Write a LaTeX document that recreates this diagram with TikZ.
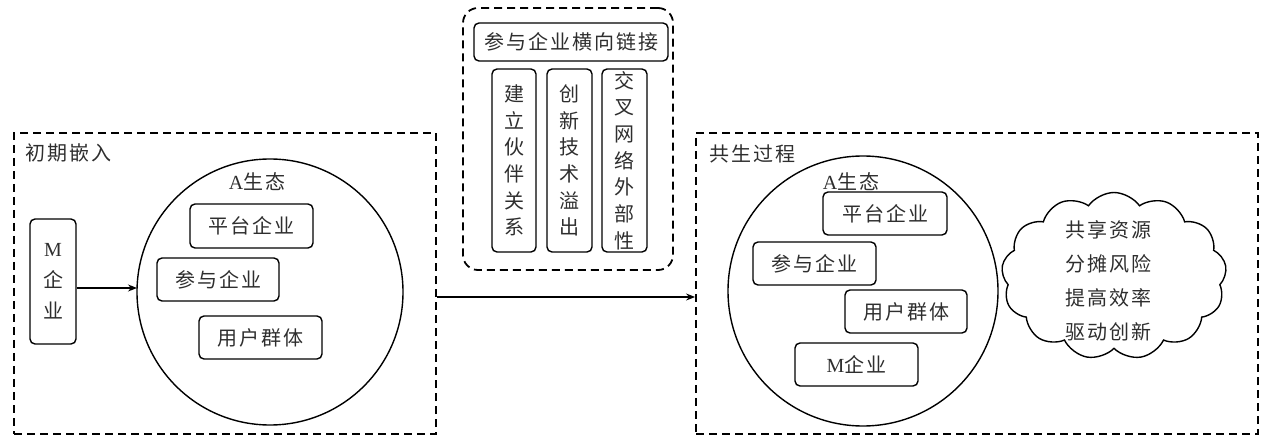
\documentclass[tikz,border=0pt]{standalone}
\usepackage{fontspec}
\setmainfont{Liberation Serif}
\newfontfamily\cjk{Noto Sans CJK SC}[LetterSpace=10]
\usetikzlibrary{arrows.meta,shapes.symbols}
\tikzset{
  txt/.style={font=\cjk\fontsize{20}{24}\selectfont, text=black!82},
  sbox/.style={draw, line width=1.4pt, rounded corners=5pt, inner sep=0pt, txt},
  dbox/.style={draw, line width=1.8pt, dash pattern=on 8pt off 5pt, inner sep=0pt},
  eco/.style={draw, circle, line width=1.4pt, inner sep=0pt},
  vtxt/.style={txt, align=center, font=\cjk\fontsize{20}{26.7}\selectfont},
  arr/.style={line width=1.4pt, -{Stealth[length=9pt,width=7pt]}},
}
\begin{document}
\begin{tikzpicture}[x=1pt,y=-1pt]
\useasboundingbox (0,0) rectangle (1266,438);
% ---------- left panel ----------
\node[dbox, minimum width=422, minimum height=301] (lbox) at (225,283.5) {};
\node[txt] (ltitle) at (68,153) {初期嵌入};
\node[eco, minimum size=266] (lcirc) at (270,292) {};
\node[txt] (lA) at (257,182) {{\rmfamily A}生态};
\node[sbox, minimum width=123, minimum height=44] (lp1) at (251.5,226) {平台企业};
\node[sbox, minimum width=122, minimum height=43] (lp2) at (218,279.5) {参与企业};
\node[sbox, minimum width=123, minimum height=43] (lp3) at (260.5,337.5) {用户群体};
\node[sbox, minimum width=46, minimum height=125, align=center,
      font=\cjk\fontsize{20}{31}\selectfont] (mbox) at (53,281.5) {{\rmfamily M}\\企\\业};
\coordinate (a1) at (137,288);
\draw[arr] (mbox.east |- a1) -- (a1);
% ---------- top panel ----------
\node[dbox, rounded corners=15pt, minimum width=210, minimum height=262] (tbox) at (568,139) {};
\node[sbox, minimum width=194, minimum height=38] (t0) at (571,42) {参与企业横向链接};
\node[sbox, vtxt, minimum width=44, minimum height=183] (t1) at (514,160.5) {建\\立\\伙\\伴\\关\\系};
\node[sbox, vtxt, minimum width=45, minimum height=183] (t2) at (569.5,160.5) {创\\新\\技\\术\\溢\\出};
\node[sbox, vtxt, minimum width=45, minimum height=183] (t3) at (624.5,160.5) {交\\叉\\网\\络\\外\\部\\性};
% ---------- right panel ----------
\node[dbox, minimum width=562, minimum height=301] (rbox) at (977,283.5) {};
\node[txt] (rtitle) at (752,154) {共生过程};
\node[eco, minimum size=270] (rcirc) at (863,291) {};
\node[txt] (rA) at (851,182) {{\rmfamily A}生态};
\node[sbox, minimum width=124, minimum height=43] (rp1) at (885,213.5) {平台企业};
\node[sbox, minimum width=123, minimum height=43] (rp2) at (814.5,263.5) {参与企业};
\node[sbox, minimum width=122, minimum height=43] (rp3) at (906,311.5) {用户群体};
\node[sbox, minimum width=123, minimum height=43] (rp4) at (856.5,364.5) {{\rmfamily M}企业};
\node[draw, cloud, cloud puffs=13, cloud puff arc=110, cloud ignores aspect,
      line width=1.4pt, minimum width=225, minimum height=167, inner sep=0pt] (cl) at (1114,276) {};
\node[txt, align=center, font=\cjk\fontsize{20}{34}\selectfont] (cltxt) at (1108,281)
  {共享资源\\分摊风险\\提高效率\\驱动创新};
% ---------- main arrow ----------
\coordinate (m) at (566,297);
\draw[arr] (lbox.east |- m) -- (rbox.west |- m);
\end{tikzpicture}
\end{document}
